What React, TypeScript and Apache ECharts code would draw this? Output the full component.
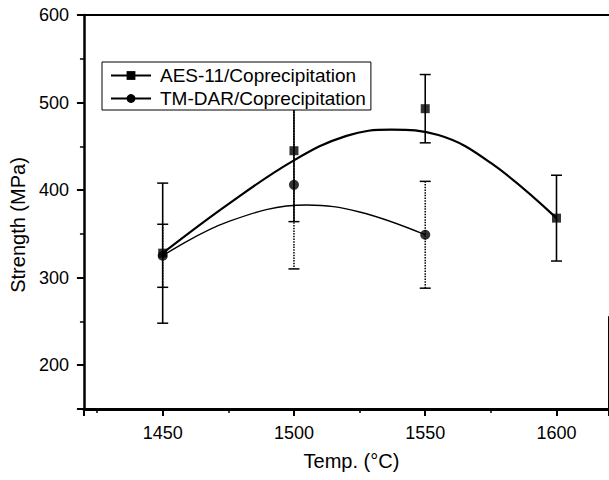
import React, { useEffect, useRef } from "react";
import * as echarts from "echarts";

// Measured data points (Temp °C -> Strength MPa) with error half-widths
const aesTemps = [1450, 1500, 1550, 1600];
const aesMean = [328, 445, 493, 368];
const aesErr = [80, 81, 39, 49];

const tmTemps = [1450, 1500, 1550];
const tmMean = [325, 406, 349];
const tmErr = [36, 96, 61];

// Fitted curves
const aesFitTemps = [1450, 1475, 1500, 1520, 1537, 1555, 1575, 1600];
const aesFit = [328, 384, 434, 462, 469, 463, 431, 368];
const tmFitTemps = [1450, 1475, 1505, 1525, 1550];
const tmFit = [325, 364, 383, 375, 349];

const AES_NAME = "AES-11/Coprecipitation";
const TM_NAME = "TM-DAR/Coprecipitation";

const X_MIN = 1420;
const X_MAX = 1620;
const Y_MIN = 150;
const Y_MAX = 600;

const FONT = "'Liberation Sans', Arial, Helvetica, sans-serif";

function errorBarSeries(temps: number[], mean: number[], err: number[], dashed: boolean, z: number) {
  return {
    type: "custom",
    silent: true,
    z,
    data: temps.map((t, i) => [t, mean[i] - err[i], mean[i] + err[i]]),
    encode: { x: 0, y: [1, 2] },
    renderItem: (params: any, api: any) => {
      const x = api.value(0);
      const lo = api.value(1);
      const hi = api.value(2);
      const pHi = api.coord([x, hi]);
      const pLo = api.coord([x, lo]);
      const w = 5.5;
      const barStyle: any = { stroke: "#000", lineWidth: dashed ? 1.5 : 1.6, fill: null };
      if (dashed) barStyle.lineDash = [1.5, 1.2];
      const capStyle = { stroke: "#000", lineWidth: 1.5, fill: null };
      return {
        type: "group",
        children: [
          { type: "line", shape: { x1: pHi[0], y1: pHi[1], x2: pLo[0], y2: pLo[1] }, style: barStyle },
          { type: "line", shape: { x1: pHi[0] - w, y1: pHi[1], x2: pHi[0] + w, y2: pHi[1] }, style: capStyle },
          { type: "line", shape: { x1: pLo[0] - w, y1: pLo[1], x2: pLo[0] + w, y2: pLo[1] }, style: capStyle },
        ],
      };
    },
  };
}

export default function App() {
  const ref = useRef<HTMLDivElement>(null);

  useEffect(() => {
    if (!ref.current) return;
    const chart = echarts.init(ref.current, undefined, { renderer: "svg" });
    const axisText = { color: "#000", fontSize: 18, fontFamily: FONT, formatter: (v: number) => String(v) };
    chart.setOption({
      animation: false,
      backgroundColor: "#fff",
      grid: { left: 83, top: 15, right: 0, bottom: 71 },
      legend: {
        orient: "vertical",
        left: 102,
        top: 62,
        borderColor: "#000",
        borderWidth: 1,
        backgroundColor: "#fff",
        padding: [4, 5, 2, 8],
        itemWidth: 40,
        itemHeight: 11,
        itemGap: 4,
        textStyle: { fontSize: 19, fontFamily: FONT, color: "#000", padding: [0, 0, 0, 4] },
        data: [{ name: AES_NAME }, { name: TM_NAME }],
      },
      xAxis: [
        {
          type: "value",
          min: X_MIN,
          max: X_MAX,
          name: "Temp. (°C)",
          nameLocation: "middle",
          nameGap: 42,
          nameTextStyle: { color: "#000", fontSize: 20, fontFamily: FONT, padding: [0, 0, 0, 10] },
          axisLine: { show: true, onZero: false, lineStyle: { color: "#000", width: 3 } },
          axisTick: { show: true, inside: false, length: 7, lineStyle: { color: "#000", width: 2 } },
          minorTick: { show: true, splitNumber: 2, length: 4, lineStyle: { color: "#000", width: 1.5 } },
          axisLabel: { ...axisText, margin: 15, showMinLabel: false, showMaxLabel: false },
          splitLine: { show: false },
        },
        {
          type: "value",
          position: "top",
          min: X_MIN,
          max: X_MAX,
          axisLine: { show: true, onZero: false, lineStyle: { color: "#000", width: 2 } },
          axisTick: { show: false },
          axisLabel: { show: false },
          splitLine: { show: false },
        },
      ],
      yAxis: {
        type: "value",
        min: Y_MIN,
        max: Y_MAX,
        name: "Strength (MPa)",
        nameLocation: "middle",
        nameGap: 55,
        nameTextStyle: { color: "#000", fontSize: 20, fontFamily: FONT, padding: [0, 26, 0, 0] },
        axisLine: { show: true, onZero: false, lineStyle: { color: "#000", width: 2.5 } },
        axisTick: { show: true, inside: false, length: 7, lineStyle: { color: "#000", width: 2 } },
        minorTick: { show: true, splitNumber: 2, length: 4, lineStyle: { color: "#000", width: 1.5 } },
        axisLabel: { ...axisText, margin: 15, showMinLabel: false },
        splitLine: { show: false },
      },
      series: [
        errorBarSeries(tmTemps, tmMean, tmErr, true, 2),
        errorBarSeries(aesTemps, aesMean, aesErr, false, 2),
        {
          name: AES_NAME,
          type: "line",
          smooth: 0.4,
          symbol: "rect",
          showSymbol: false,
          silent: true,
          z: 3,
          itemStyle: { color: "#000" },
          lineStyle: { color: "#000", width: 2.2 },
          data: aesFitTemps.map((t, i) => [t, aesFit[i]]),
          markLine: {
            silent: true,
            symbol: "none",
            label: { show: false },
            lineStyle: { color: "#000", width: 1, type: "solid" },
            data: [[{ coord: [1619.6, Y_MIN] }, { coord: [1619.6, 256] }]],
          },
        },
        {
          name: TM_NAME,
          type: "line",
          smooth: 0.4,
          symbol: "circle",
          showSymbol: false,
          silent: true,
          z: 3,
          itemStyle: { color: "#000" },
          lineStyle: { color: "#000", width: 1.3 },
          data: tmFitTemps.map((t, i) => [t, tmFit[i]]),
        },
        {
          name: "AES points",
          type: "scatter",
          symbol: "rect",
          symbolSize: 9,
          z: 4,
          silent: true,
          itemStyle: { color: "#000" },
          data: aesTemps.map((t, i) => [t, aesMean[i]]),
        },
        {
          name: "TM points",
          type: "scatter",
          symbol: "circle",
          symbolSize: 10,
          z: 4,
          silent: true,
          itemStyle: { color: "#000" },
          data: tmTemps.map((t, i) => [t, tmMean[i]]),
        },
      ],
    });
    return () => chart.dispose();
  }, []);

  return (
    <div
      ref={ref}
      style={{ position: "absolute", left: 0, top: 0, width: 609, height: 480, background: "#fff" }}
    />
  );
}
